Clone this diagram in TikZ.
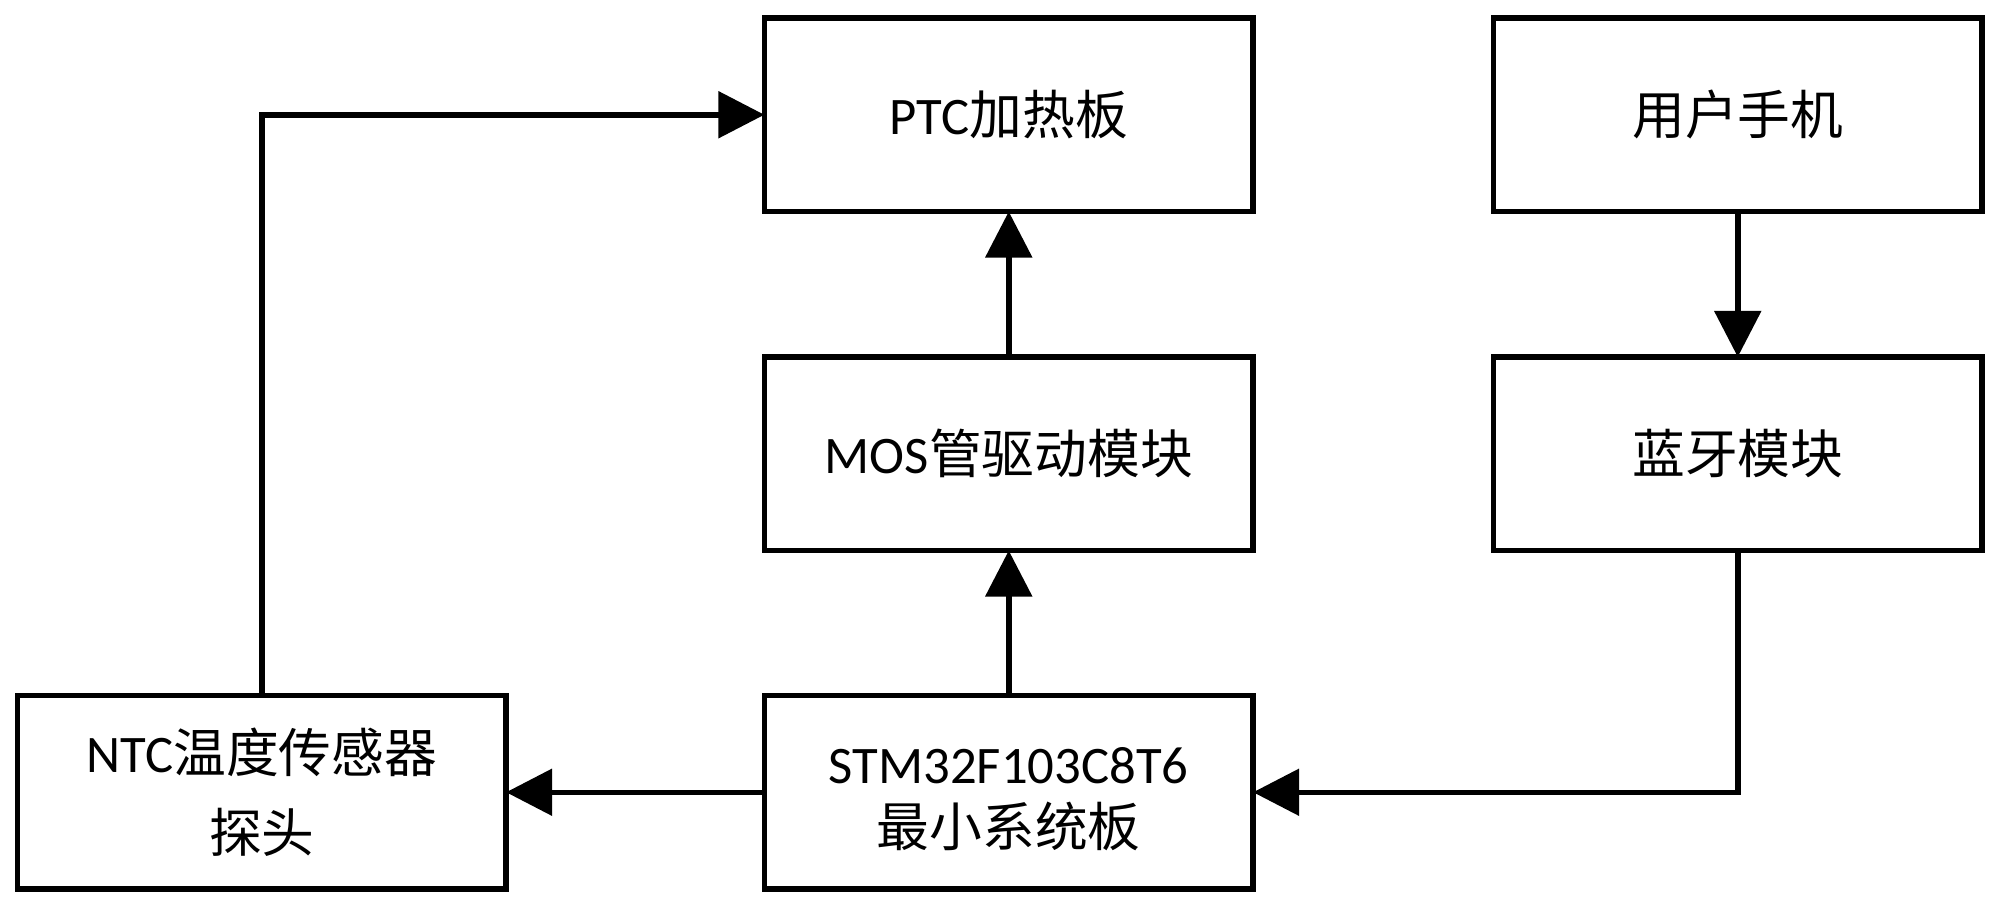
\documentclass[tikz,border=0pt]{standalone}
\usepackage{fontspec}
\setmainfont{Carlito}
\newfontfamily\cjk{Noto Sans CJK SC}
\usetikzlibrary{arrows.meta}
\begin{document}
\begin{tikzpicture}[x=0.01cm,y=-0.01cm,
  blk/.style={draw=black, line width=0.055cm, minimum width=4.885cm, minimum height=1.935cm,
    inner sep=0pt, outer sep=0pt, align=center, font=\fontsize{15pt}{22pt}\selectfont},
  arr/.style={line width=0.055cm, -{Triangle[length=4.6mm,width=4.6mm]}}]
\useasboundingbox (0,0) rectangle (2000,903);
\node[blk] (ptc) at (1008.75,114.75) {PTC{\cjk 加热板}};
\node[blk] (phone) at (1737.75,114.75) {{\cjk 用户手机}};
\node[blk] (mos) at (1008.75,453.75) {MOS{\cjk 管驱动模块}};
\node[blk] (bt) at (1737.75,453.75) {{\cjk 蓝牙模块}};
\node[blk, font=\fontsize{15pt}{22.8pt}\selectfont] (ntc) at (261.75,792.25) {NTC{\cjk 温度传感器}\\{\cjk 探头}};
\node[blk, font=\fontsize{15pt}{18pt}\selectfont] (stm) at (1008.75,792.25) {\rule{0pt}{0.5cm}STM32F103C8T6\\{\cjk 最小系统板}};
\draw[arr] (ntc.north) |- (ptc.west);
\draw[arr] (mos.north) -- (ptc.south);
\draw[arr] (stm.north) -- (mos.south);
\draw[arr] (phone.south) -- (bt.north);
\draw[arr] (bt.south) |- (stm.east);
\draw[arr] (stm.west) -- (ntc.east);
\end{tikzpicture}
\end{document}
